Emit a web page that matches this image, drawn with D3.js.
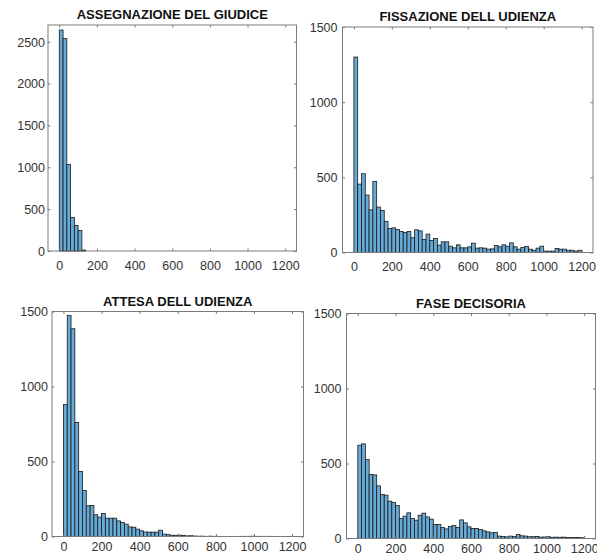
<!DOCTYPE html>
<html>
<head>
<meta charset="utf-8">
<script src="https://cdn.jsdelivr.net/npm/d3@7"></script>
<style>
  html, body { margin: 0; padding: 0; background: #fff; }
  svg { display: block; }
  text { font-family: "Liberation Sans", Arial, Helvetica, sans-serif; }
</style>
</head>
<body>
<svg id="chart" width="597" height="557"></svg>
<script>
// ---- Data (bin width 20, bins start at 0) ----
const binWidth = 20;
const xTicks = [0, 200, 400, 600, 800, 1000, 1200];

const titles = ["ASSEGNAZIONE DEL GIUDICE", "FISSAZIONE DELL UDIENZA", "ATTESA DELL UDIENZA", "FASE DECISORIA"];

const assegnazioneCounts = [2640, 2540, 1035, 400, 305, 245, 12];

const fissazioneCounts = [1300, 455, 524, 382, 284, 473, 302, 280, 207, 160,
  164, 153, 140, 133, 140, 98, 151, 144, 87, 122,
  80, 93, 49, 71, 71, 42, 31, 51, 31, 31,
  38, 62, 29, 31, 29, 22, 24, 46, 38, 51,
  42, 64, 38, 22, 33, 40, 22, 15, 29, 42,
  9, 9, 9, 27, 22, 22, 15, 15, 9, 15];

const attesaCounts = [880, 1473, 1385, 760, 433, 307, 205, 207, 145, 129,
  153, 122, 122, 122, 104, 93, 82, 64, 62, 49,
  38, 30, 29, 29, 29, 42, 16, 12, 8, 8,
  9, 6, 4, 5, 3, 2, 2, 1, 2, 1,
  1, 0, 0, 0, 0, 0, 1, 1, 1, 2,
  1, 1, 1, 1, 1, 0, 0, 0, 0, 0];

const decisoriaCounts = [622, 631, 527, 427, 424, 351, 293, 289, 249, 240,
  220, 133, 149, 171, 133, 122, 155, 169, 144, 129,
  93, 93, 73, 64, 80, 87, 73, 124, 104, 78,
  67, 67, 60, 51, 44, 38, 40, 16, 14, 11,
  16, 13, 26, 18, 16, 12, 12, 14, 9, 10,
  12, 8, 9, 8, 9, 7, 6, 7, 6, 5];

const yTicksBig = [0, 500, 1000, 1500, 2000, 2500];
const yTicksSmall = [0, 500, 1000, 1500];
const yMaxes = [2700, 1500, 1500, 1500];

// ---- Layout ----
const boxes = [
  { l: 48, r: 296.5, t: 25, b: 251, xlab: 18.5, ygap: 3 },
  { l: 342.5, r: 593, t: 27, b: 252.5, xlab: 18.5, ygap: 5 },
  { l: 52, r: 303.5, t: 311.5, b: 536.5, xlab: 14.5, ygap: 4 },
  { l: 346.5, r: 595.5, t: 313.5, b: 538.5, xlab: 14.5, ygap: 5 }
];
const seriesList = [assegnazioneCounts, fissazioneCounts, attesaCounts, decisoriaCounts];
const yTickList = [yTicksBig, yTicksSmall, yTicksSmall, yTicksSmall];

const svg = d3.select("#chart");
svg.append("rect").attr("width", 597).attr("height", 557).attr("fill", "#fff");

const axisColor = "#7a7a7a";
const labelColor = "#333";
const tickLen = 2.5;
const tickFont = "12.5px";

boxes.forEach((bx, i) => {
  const x = d3.scaleLinear().domain([-60, 1260]).range([bx.l, bx.r]);
  const y = d3.scaleLinear().domain([0, yMaxes[i]]).range([bx.b, bx.t]);
  const g = svg.append("g");

  const bins = seriesList[i].map((v, k) => ({ x0: k * binWidth, x1: (k + 1) * binWidth, v }))
    .filter(d => d.v > 0);

  g.selectAll("rect.bar").data(bins).enter().append("rect")
    .attr("class", "bar")
    .attr("x", d => x(d.x0))
    .attr("width", d => x(d.x1) - x(d.x0))
    .attr("y", d => y(d.v))
    .attr("height", d => y(0) - y(d.v))
    .attr("fill", "rgb(102,170,215)")
    .attr("stroke", "#1a1a1a")
    .attr("stroke-width", 0.8);

  const xAxisB = d3.axisBottom(x).tickValues(xTicks).tickSize(-tickLen).tickPadding(0).tickFormat(d3.format("d"));
  const xAxisT = d3.axisTop(x).tickValues(xTicks).tickSize(-tickLen).tickFormat("");
  const yAxisL = d3.axisLeft(y).tickValues(yTickList[i]).tickSize(-tickLen).tickFormat(d3.format("d"));
  const yAxisR = d3.axisRight(y).tickValues(yTickList[i]).tickSize(-tickLen).tickFormat("");

  const gb = g.append("g").attr("transform", `translate(0,${bx.b})`).call(xAxisB);
  const gt = g.append("g").attr("transform", `translate(0,${bx.t})`).call(xAxisT);
  const gl = g.append("g").attr("transform", `translate(${bx.l},0)`).call(yAxisL);
  const gr = g.append("g").attr("transform", `translate(${bx.r},0)`).call(yAxisR);

  [gb, gt, gl, gr].forEach(a => {
    a.select(".domain").remove();
    a.selectAll(".tick line").attr("stroke", axisColor).attr("stroke-width", 1);
  });
  gb.selectAll(".tick text").attr("y", bx.xlab).attr("dy", 0)
    .attr("fill", labelColor).style("font-size", tickFont).style("font-family", '"Liberation Sans", Arial, sans-serif');
  gl.selectAll(".tick text").attr("x", -bx.ygap).attr("dy", "0.35em")
    .attr("fill", labelColor).style("font-size", tickFont).style("font-family", '"Liberation Sans", Arial, sans-serif');

  g.append("rect").attr("x", bx.l).attr("y", bx.t)
    .attr("width", bx.r - bx.l).attr("height", bx.b - bx.t)
    .attr("fill", "none").attr("stroke", axisColor).attr("stroke-width", 1);

  g.append("text")
    .attr("x", (bx.l + bx.r) / 2).attr("y", bx.t - 6)
    .attr("text-anchor", "middle")
    .attr("font-weight", "bold")
    .attr("font-size", "13px")
    .attr("fill", "#111")
    .text(titles[i]);
});
</script>
</body>
</html>
